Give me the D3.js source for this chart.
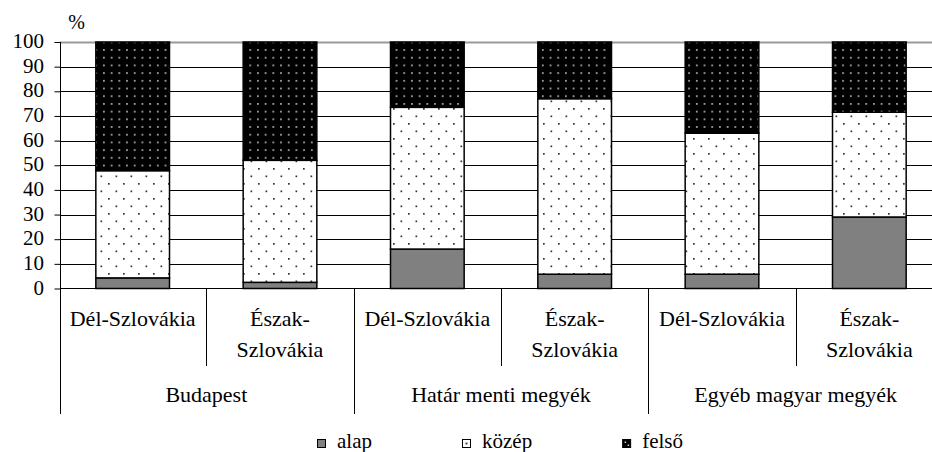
<!DOCTYPE html>
<html>
<head>
<meta charset="utf-8">
<script src="https://cdn.jsdelivr.net/npm/d3@7"></script>
<style>
  body { margin: 0; background: #fff; }
</style>
</head>
<body>
<script>
const width = 932;
const height = 452;

// data (percent)
const groups = ["Budapest", "Határ menti megyék", "Egyéb magyar megyék"];
const regions = ["Dél-Szlovákia", "Észak-Szlovákia"];
const seriesNames = ["alap", "közép", "felső"];
const alap  = [4.3, 2.5, 16.0, 5.8, 5.8, 29.0];
const kozep = [43.5, 49.5, 57.5, 71.2, 57.2, 42.5];
const felso = [52.2, 48.0, 26.5, 23.0, 37.0, 28.5];
const yTicks = [0, 10, 20, 30, 40, 50, 60, 70, 80, 90, 100];

const FONT = "'Liberation Serif'";

const cats = [];
groups.forEach((g, gi) => regions.forEach((r, ri) => cats.push({ key: gi + "|" + ri, group: g, region: r, gi, ri })));
cats.forEach((c, i) => { c.vals = [alap[i], kozep[i], felso[i]]; });

const x = d3.scaleBand().domain(cats.map(d => d.key)).range([59, 943]).padding(0);
const y = d3.scaleLinear().domain([0, 100]).range([288.5, 42]);

const svg = d3.select("body").append("svg")
  .attr("width", width)
  .attr("height", height);

const defs = svg.append("defs");
// közép: white with dark dots
const pK = defs.append("pattern").attr("id", "pk").attr("patternUnits", "userSpaceOnUse")
  .attr("width", 15).attr("height", 15);
pK.append("rect").attr("width", 15).attr("height", 15).attr("fill", "#fff");
pK.append("rect").attr("x", 3).attr("y", 3).attr("width", 1.7).attr("height", 1.7).attr("fill", "#333");
pK.append("rect").attr("x", 10.5).attr("y", 10.5).attr("width", 1.7).attr("height", 1.7).attr("fill", "#333");
// felső: black with light dots
const pF = defs.append("pattern").attr("id", "pf").attr("patternUnits", "userSpaceOnUse")
  .attr("width", 15.4).attr("height", 15.4);
pF.append("rect").attr("width", 15.4).attr("height", 15.4).attr("fill", "#000");
pF.append("rect").attr("x", 3).attr("y", 3).attr("width", 1.6).attr("height", 1.6).attr("fill", "#ccc");
pF.append("rect").attr("x", 10.7).attr("y", 10.7).attr("width", 1.6).attr("height", 1.6).attr("fill", "#ccc");
pF.append("rect").attr("x", 10.7).attr("y", 3).attr("width", 1.6).attr("height", 1.6).attr("fill", "#ccc");
pF.append("rect").attr("x", 3).attr("y", 10.7).attr("width", 1.6).attr("height", 1.6).attr("fill", "#ccc");

const fills = ["#808080", "url(#pk)", "url(#pf)"];

function stext(sel, tx, ty, str, anchor, size) {
  return sel.append("text")
    .attr("x", tx)
    .attr("y", ty)
    .attr("text-anchor", anchor || "middle")
    .attr("font-family", FONT)
    .attr("font-size", size || 22)
    .attr("fill", "#000")
    .text(str);
}

// gridlines
svg.append("g").selectAll("line")
  .data(yTicks.filter(t => t > 0))
  .join("line")
  .attr("x1", 60).attr("x2", width)
  .attr("y1", d => Math.round(y(d)) + 0.5).attr("y2", d => Math.round(y(d)) + 0.5)
  .attr("stroke", d => d === 100 ? "#999" : "#000")
  .attr("stroke-width", d => d === 100 ? 2 : 1);

// y axis
const yAxis = d3.axisLeft(y).tickValues(yTicks).tickSize(6).tickPadding(10);
const ya = svg.append("g").attr("transform", "translate(60.5,0)").call(yAxis);
ya.select(".domain").remove();
ya.selectAll(".tick line").attr("stroke", "#000");
ya.selectAll(".tick text").remove();
yTicks.forEach(t => stext(svg, 44, y(t) + 6, String(t), "end", 21));
svg.append("line").attr("x1", 60.5).attr("x2", 60.5).attr("y1", 42).attr("y2", 414).attr("stroke", "#000");
stext(svg, 76.5, 29, "%", "middle", 20);

// bars
const stack = cats.map(c => {
  let acc = 0;
  return c.vals.map((v, si) => { const s = { c, si, y0: acc, y1: acc + v }; acc += v; return s; });
}).flat();

svg.append("g").selectAll("rect")
  .data(stack)
  .join("rect")
  .attr("x", d => x(d.c.key) + x.bandwidth() * 0.25)
  .attr("width", x.bandwidth() * 0.5)
  .attr("y", d => y(d.y1))
  .attr("height", d => y(d.y0) - y(d.y1))
  .attr("fill", d => fills[d.si])
  .attr("stroke", "#000")
  .attr("stroke-width", 1.5);

// x axis line
svg.append("line").attr("x1", 60).attr("x2", width).attr("y1", 288.5).attr("y2", 288.5).attr("stroke", "#000");

// separators and category labels
cats.forEach((c, i) => {
  const bx = x(c.key);
  if (i > 0) {
    svg.append("line")
      .attr("x1", Math.round(bx) + 0.5).attr("x2", Math.round(bx) + 0.5)
      .attr("y1", 288.5).attr("y2", c.ri === 0 ? 414 : 366)
      .attr("stroke", "#000");
  }
  const cx = bx + x.bandwidth() / 2;
  if (c.region.indexOf("Észak") === 0) {
    stext(svg, cx, 326, "Észak-");
    stext(svg, cx, 356.5, "Szlovákia");
  } else {
    stext(svg, cx, 326, c.region);
  }
});

groups.forEach((g, gi) => {
  const x0 = x(gi + "|0"), x1 = x(gi + "|1") + x.bandwidth();
  stext(svg, (x0 + x1) / 2, 402, g);
});

// legend
const leg = svg.append("g");
let lx = 0;
seriesNames.forEach((n, i) => {
  const it = leg.append("g").attr("transform", `translate(${lx},0)`);
  it.append("rect").attr("x", 0.5).attr("y", 439.5).attr("width", 8).attr("height", 8)
    .attr("fill", i === 0 ? "#808080" : i === 1 ? "#fff" : "#000").attr("stroke", "#000");
  if (i === 1) it.append("rect").attr("x", 3.5).attr("y", 442.5).attr("width", 2).attr("height", 2).attr("fill", "#444");
  if (i === 2) {
    it.append("rect").attr("x", 2.5).attr("y", 441.5).attr("width", 1.5).attr("height", 1.5).attr("fill", "#ccc");
    it.append("rect").attr("x", 5.5).attr("y", 444.5).attr("width", 1.5).attr("height", 1.5).attr("fill", "#ccc");
  }
  const t = stext(it, 20, 448, n, "start", 21);
  const w = 20 + t.node().getComputedTextLength();
  lx += w + 90;
});
const totalW = lx - 90;
leg.attr("transform", `translate(${Math.round(500 - totalW / 2)},0)`);
</script>
</body>
</html>
